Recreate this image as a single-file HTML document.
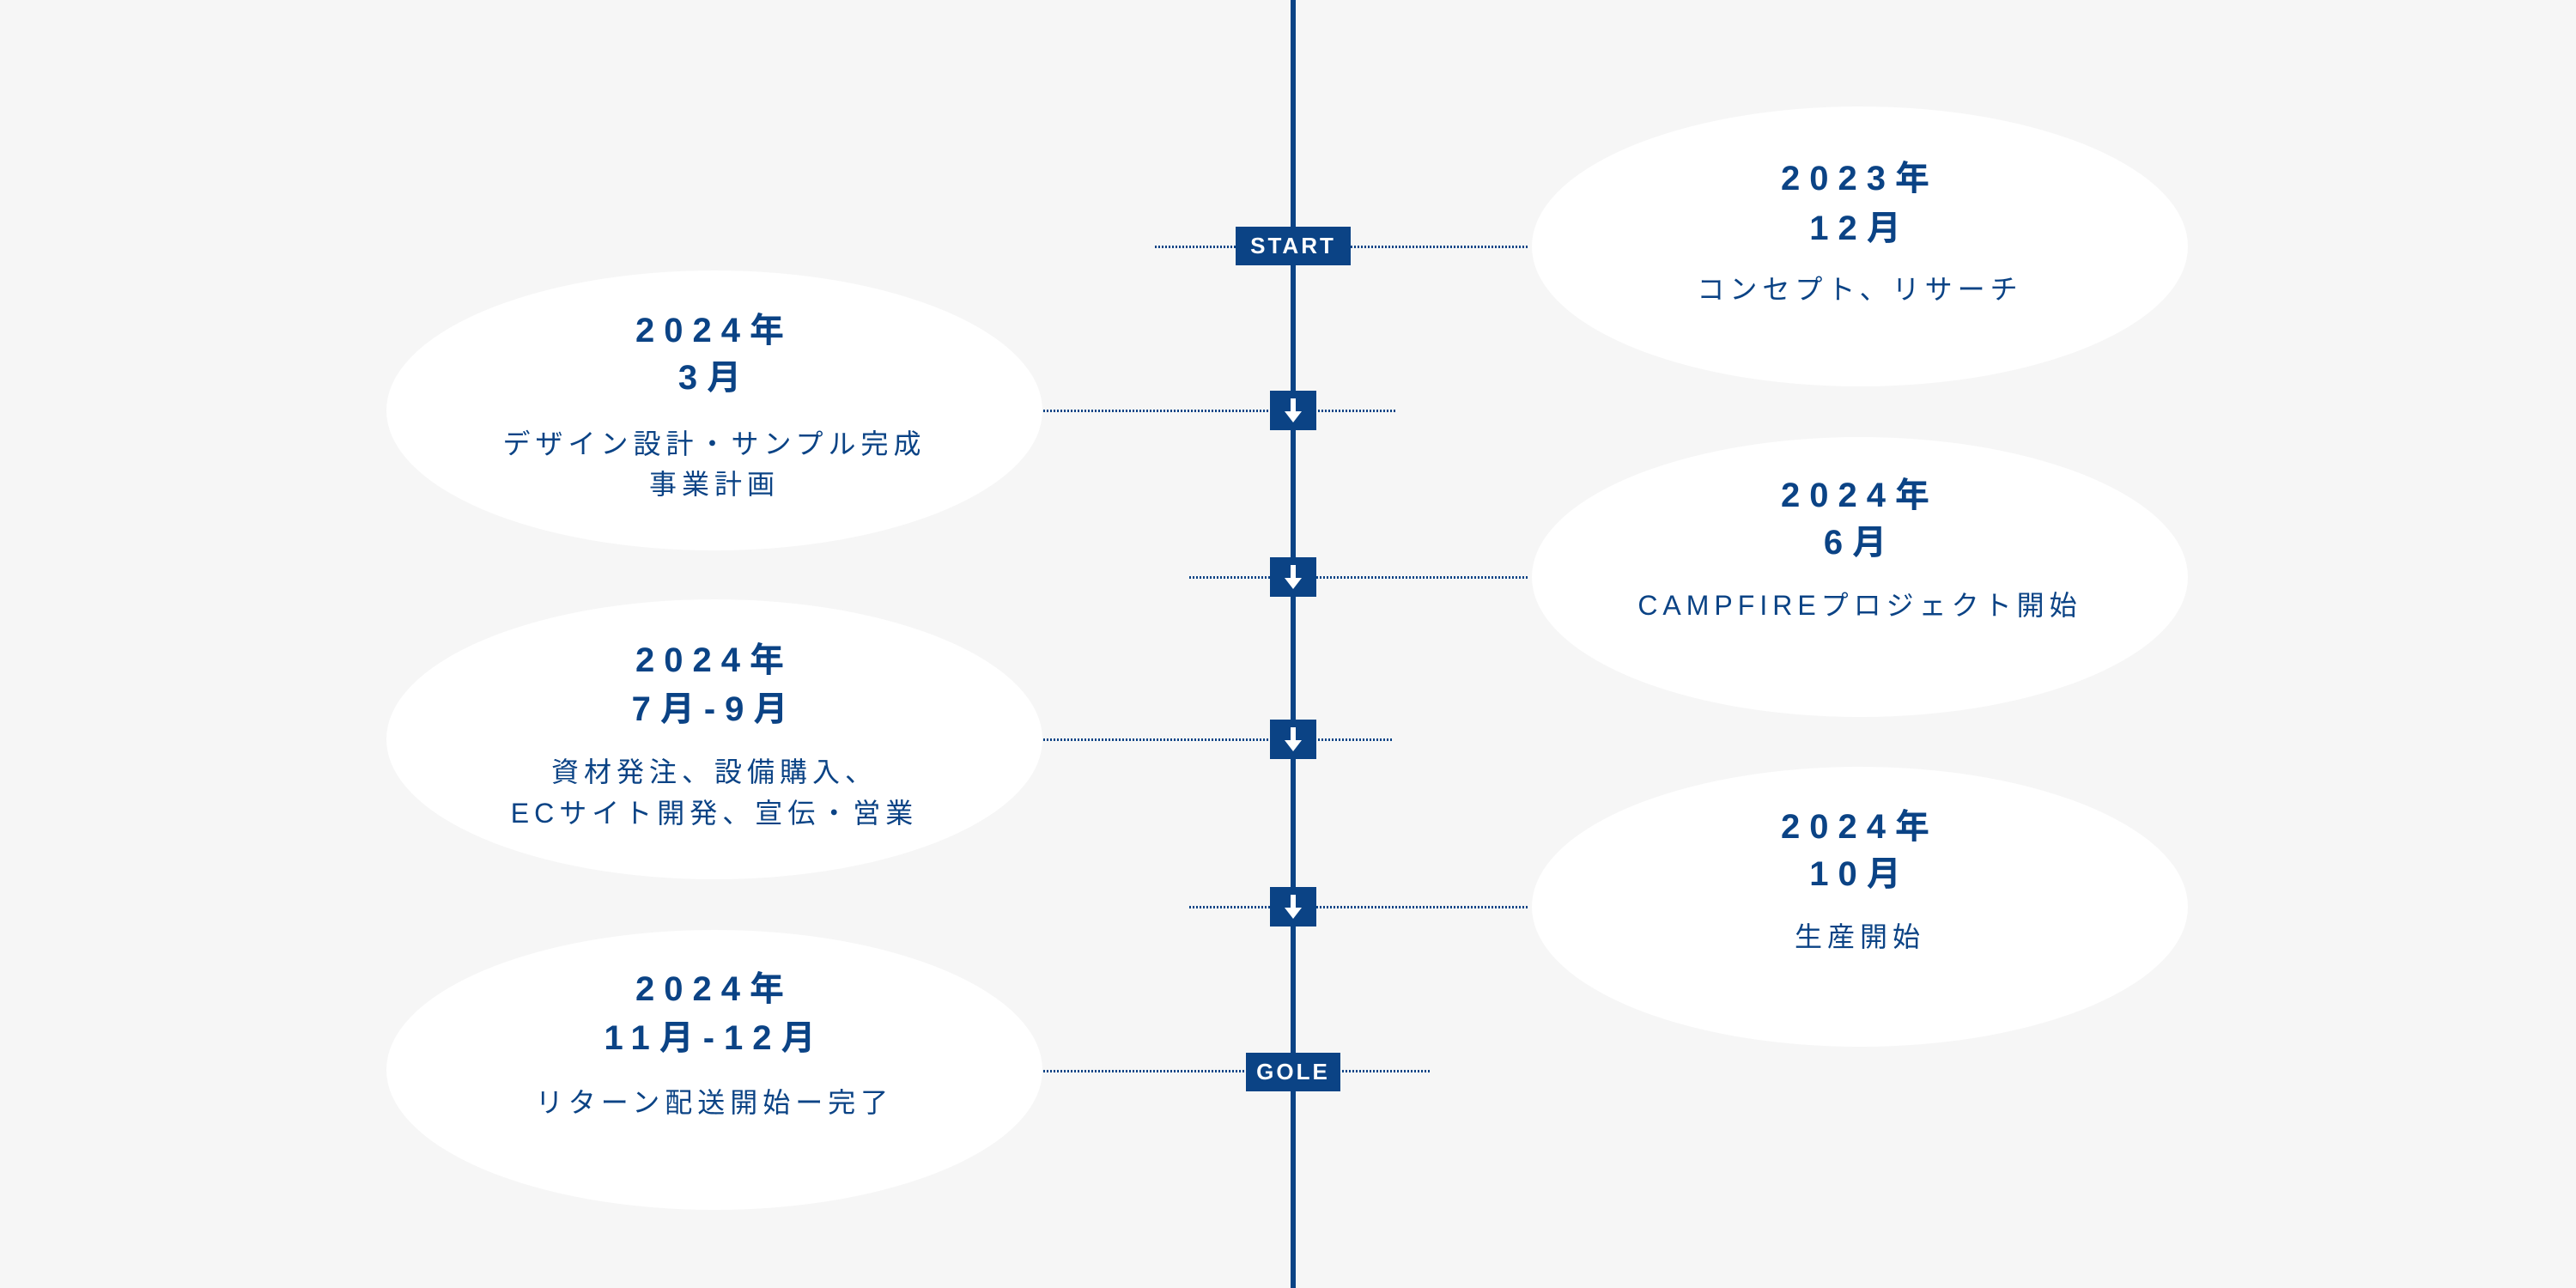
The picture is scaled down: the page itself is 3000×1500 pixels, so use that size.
<!DOCTYPE html>
<html><head><meta charset="utf-8"><style>
html,body{margin:0;padding:0}
body{width:3000px;height:1500px;background:#f6f6f6;position:relative;overflow:hidden;font-family:"Liberation Sans","Noto Sans CJK JP",sans-serif;color:#0b4385}
.el{position:absolute;width:764px;height:326px;border-radius:50%;background:#fff}
.t{position:absolute;height:60px;line-height:60px;text-align:center;white-space:nowrap}
.y{font-weight:bold;font-size:40px;letter-spacing:11px}
.d{font-size:32px;letter-spacing:6px}
.L{left:450px;width:764px}
.R{left:1784px;width:764px}
.dot{position:absolute;height:3px;background:repeating-linear-gradient(90deg,#0b4385 0 2px,transparent 2px 4px)}
.vl{position:absolute;left:1503px;top:0;width:6px;height:1500px;background:#0b4385}
.box{position:absolute;background:#0b4385;color:#fff;font-weight:bold;font-size:26px;letter-spacing:3px;text-align:center}
.ar{position:absolute;left:1479px;width:54px;height:46px;background:#0b4385}
</style></head><body>
<div class="el" style="left:1784px;top:124px"></div>
<div class="el" style="left:1784px;top:509px"></div>
<div class="el" style="left:1784px;top:893px"></div>
<div class="el" style="left:450px;top:315px"></div>
<div class="el" style="left:450px;top:698px"></div>
<div class="el" style="left:450px;top:1083px"></div>

<div class="dot" style="left:1345px;width:435px;top:286px"></div>
<div class="dot" style="left:1215px;width:411px;top:477px"></div>
<div class="dot" style="left:1385px;width:395px;top:671px"></div>
<div class="dot" style="left:1215px;width:407px;top:860px"></div>
<div class="dot" style="left:1385px;width:395px;top:1055px"></div>
<div class="dot" style="left:1215px;width:450px;top:1246px"></div>

<div class="vl"></div>

<div class="box" style="left:1439px;top:264px;width:134px;height:45px;line-height:45px">START</div>
<div class="box" style="left:1451px;top:1226px;width:110px;height:45px;line-height:45px">GOLE</div>
<svg class="ar" style="top:455px" viewBox="0 0 54 46"><path d="M24 9h6v15h7l-10 13-10-13h7z" fill="#fff"/></svg>
<svg class="ar" style="top:649px" viewBox="0 0 54 46"><path d="M24 9h6v15h7l-10 13-10-13h7z" fill="#fff"/></svg>
<svg class="ar" style="top:838px" viewBox="0 0 54 46"><path d="M24 9h6v15h7l-10 13-10-13h7z" fill="#fff"/></svg>
<svg class="ar" style="top:1033px" viewBox="0 0 54 46"><path d="M24 9h6v15h7l-10 13-10-13h7z" fill="#fff"/></svg>

<div class="t y R" style="top:178px">2023年</div>
<div class="t y R" style="top:236px">12月</div>
<div class="t d R" style="top:307px">コンセプト、リサーチ</div>

<div class="t y R" style="top:547px">2024年</div>
<div class="t y R" style="top:602px">6月</div>
<div class="t d R" style="top:675px">CAMPFIREプロジェクト開始</div>

<div class="t y R" style="top:933px">2024年</div>
<div class="t y R" style="top:988px">10月</div>
<div class="t d R" style="top:1061px">生産開始</div>

<div class="t y L" style="top:355px">2024年</div>
<div class="t y L" style="top:410px">3月</div>
<div class="t d L" style="top:487px">デザイン設計・サンプル完成</div>
<div class="t d L" style="top:534px">事業計画</div>

<div class="t y L" style="top:739px">2024年</div>
<div class="t y L" style="top:796px">7月-9月</div>
<div class="t d L" style="top:869px">資材発注、設備購入、</div>
<div class="t d L" style="top:917px">ECサイト開発、宣伝・営業</div>

<div class="t y L" style="top:1122px">2024年</div>
<div class="t y L" style="top:1179px">11月-12月</div>
<div class="t d L" style="top:1254px">リターン配送開始ー完了</div>
</body></html>
